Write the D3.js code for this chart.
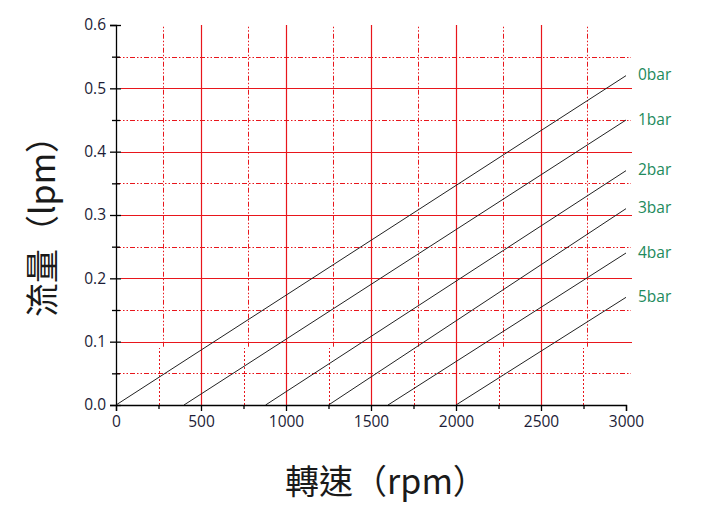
<!DOCTYPE html>
<html>
<head>
<meta charset="utf-8">
<script src="https://cdn.jsdelivr.net/npm/d3@7"></script>
<style>
  body { margin: 0; background: #fff; }
  .tick text { font-family: 'Open Sans', sans-serif; font-size: 15.5px; fill: #1c1c36; }
</style>
</head>
<body>
<div id="chart"></div>
<script>
const xTicks = [0, 500, 1000, 1500, 2000, 2500, 3000];
const xMinor = [250, 750, 1250, 1750, 2250, 2750];
const yTicks = [0, 0.1, 0.2, 0.3, 0.4, 0.5, 0.6];
const yMinor = [0.05, 0.15, 0.25, 0.35, 0.45, 0.55];

const pressures = ['0bar', '1bar', '2bar', '3bar', '4bar', '5bar'];
const startRpm = [0, 400, 880, 1250, 1600, 2000];
const endFlow = [0.52, 0.45, 0.37, 0.31, 0.24, 0.17];
const maxRpm = 3000;

const series = pressures.map((p, i) => ({
  name: p,
  values: [{ rpm: startRpm[i], flow: 0 }, { rpm: maxRpm, flow: endFlow[i] }]
}));

const width = 716;
const height = 516;
const margin = { top: 25, right: 90, bottom: 111, left: 116 };
const red = '#e8161c';
const dashPat = '5,2,1.5,2,1.5,2';

const svg = d3.select('#chart').append('svg')
  .attr('width', width)
  .attr('height', height);

const x = d3.scaleLinear()
  .domain([0, 3000])
  .range([margin.left, width - margin.right]);

const y = d3.scaleLinear()
  .domain([0, 0.6])
  .range([height - margin.bottom, margin.top]);

const grid = svg.append('g');

// minor horizontal grid
grid.selectAll('.hminor')
  .data(yMinor)
  .join('line')
  .attr('x1', x(0)).attr('x2', x(3000) + 5)
  .attr('y1', d => Math.round(y(d)) + 0.5).attr('y2', d => Math.round(y(d)) + 0.5)
  .attr('stroke', red).attr('stroke-width', 1)
  .attr('stroke-dasharray', dashPat);

// minor vertical grid, drawn in two pieces like the original
grid.selectAll('.vminorLow')
  .data(xMinor)
  .join('line')
  .attr('x1', d => Math.round(x(d)) + 0.5).attr('x2', d => Math.round(x(d)) + 0.5)
  .attr('y1', y(0)).attr('y2', y(0.09))
  .attr('stroke', red).attr('stroke-width', 1)
  .attr('stroke-dasharray', '2,2');

grid.selectAll('.vminorHigh')
  .data(xMinor)
  .join('line')
  .attr('x1', d => Math.round(x(d)) + 4.5).attr('x2', d => Math.round(x(d)) + 4.5)
  .attr('y1', y(0.092)).attr('y2', y(0.6))
  .attr('stroke', red).attr('stroke-width', 1)
  .attr('stroke-dasharray', dashPat);

// major grid
grid.selectAll('.hmajor')
  .data(yTicks.filter(d => d > 0 && d < 0.6))
  .join('line')
  .attr('x1', x(0) + 5).attr('x2', x(3000) + 6)
  .attr('y1', d => Math.round(y(d)) + 0.5).attr('y2', d => Math.round(y(d)) + 0.5)
  .attr('stroke', red).attr('stroke-width', 1.2);

grid.selectAll('.vmajor')
  .data(xTicks.filter(d => d > 0 && d < 3000))
  .join('line')
  .attr('x1', d => Math.round(x(d)) + 0.5).attr('x2', d => Math.round(x(d)) + 0.5)
  .attr('y1', y(0)).attr('y2', y(0.6))
  .attr('stroke', red).attr('stroke-width', 1.2);

// flow lines
const line = d3.line()
  .x(d => x(d.rpm))
  .y(d => y(d.flow));

svg.append('g')
  .selectAll('path')
  .data(series)
  .join('path')
  .attr('d', d => line(d.values))
  .attr('fill', 'none')
  .attr('stroke', '#222')
  .attr('stroke-width', 1);

svg.append('g')
  .selectAll('text')
  .data(series)
  .join('text')
  .attr('x', x(maxRpm) + 12)
  .attr('y', d => y(d.values[1].flow))
  .attr('dy', '0.3em')
  .attr('font-family', "'Open Sans', sans-serif")
  .attr('font-size', 15.5)
  .attr('fill', '#218a5c')
  .text(d => d.name);

// axes
svg.append('g')
  .attr('transform', `translate(0,${y(0)})`)
  .call(d3.axisBottom(x).tickValues(xTicks).tickSize(6).tickPadding(5).tickFormat(d3.format('d')));

svg.append('g')
  .attr('transform', `translate(0,${y(0)})`)
  .call(d3.axisBottom(x).tickValues(xMinor).tickSize(4).tickFormat(''))
  .call(g => g.select('.domain').remove());

svg.append('g')
  .attr('transform', `translate(${x(0)},0)`)
  .call(d3.axisLeft(y).tickValues(yTicks).tickSize(6).tickPadding(4).tickFormat(d3.format('.1f')));

svg.append('g')
  .attr('transform', `translate(${x(0)},0)`)
  .call(d3.axisRight(y).tickValues(yTicks).tickSize(5).tickFormat(''))
  .call(g => g.select('.domain').remove());

svg.append('g')
  .attr('transform', `translate(${x(0)},0)`)
  .call(d3.axisLeft(y).tickValues(yMinor).tickSize(4).tickFormat(''))
  .call(g => g.select('.domain').remove());

svg.append('g')
  .attr('transform', `translate(${x(0)},0)`)
  .call(d3.axisRight(y).tickValues(yMinor).tickSize(4).tickFormat(''))
  .call(g => g.select('.domain').remove());

svg.selectAll('.domain, .tick line').attr('stroke', '#000').attr('stroke-width', 1.3);

// titles
svg.append('text')
  .attr('x', 386)
  .attr('y', 494)
  .attr('text-anchor', 'middle')
  .attr('font-family', "'Noto Sans CJK TC', sans-serif")
  .attr('font-size', 34)
  .attr('fill', '#1a1a1a')
  .text('轉速（rpm）');

svg.append('text')
  .attr('transform', 'translate(55,218) rotate(-90)')
  .attr('text-anchor', 'middle')
  .attr('font-family', "'Noto Sans CJK TC', sans-serif")
  .attr('font-size', 34)
  .attr('fill', '#1a1a1a')
  .text('流量（lpm）');
</script>
</body>
</html>
